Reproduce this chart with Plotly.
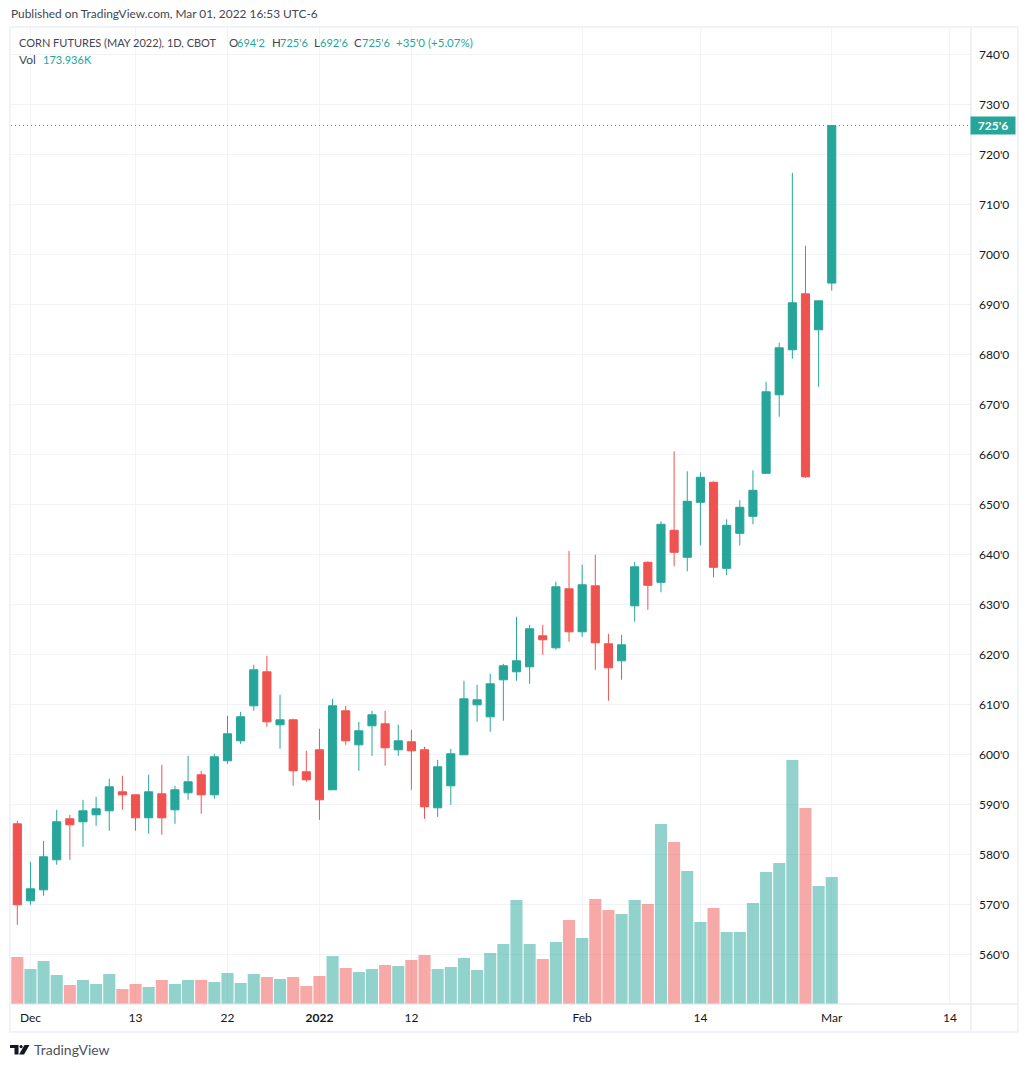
import plotly.graph_objects as go

# daily corn futures (price in cents, volume in thousands)
opens = [586.1, 570.7, 572.9, 578.9, 587.1, 586.5, 587.9, 588.7, 592.5, 591.9, 587.3, 592.1, 588.9, 592.3, 595.9, 591.9,
         598.7, 602.7, 609.7, 616.5, 605.9, 606.9, 596.5, 600.9, 592.9, 608.7, 601.9, 605.7, 606.1, 600.9, 602.5, 600.9,
         589.3, 593.7, 599.9, 609.9, 607.5, 614.9, 616.5, 617.5, 623.7, 621.3, 633.1, 624.5, 633.7, 622.1, 618.7, 629.7,
         638.4, 634.4, 644.8, 639.4, 650.4, 654.4, 637.2, 644.2, 647.6, 656.2, 671.9, 680.9, 692.1, 684.9, 694.25]
highs = [586.7, 578.5, 582.7, 588.9, 587.9, 590.9, 591.5, 595.1, 595.7, 591.9, 595.9, 597.9, 593.7, 599.7, 596.7, 600.1,
         607.7, 608.5, 617.9, 619.7, 611.9, 607.1, 600.7, 605.1, 611.1, 609.7, 606.5, 608.7, 608.7, 605.9, 604.9, 601.5,
         598.9, 601.1, 614.7, 613.9, 616.1, 618.1, 627.5, 625.9, 625.9, 634.5, 640.7, 637.9, 639.9, 624.1, 623.9, 638.5,
         638.6, 646.6, 660.6, 656.6, 656.4, 654.6, 647.0, 650.8, 656.8, 674.5, 682.3, 716.3, 701.7, 690.7, 725.75]
lows = [565.9, 569.9, 571.7, 577.9, 578.9, 581.5, 585.7, 584.7, 588.9, 584.7, 584.1, 583.9, 586.1, 590.9, 588.1, 591.1,
        598.1, 602.1, 608.7, 605.5, 601.1, 593.7, 594.5, 586.9, 592.9, 601.9, 596.7, 599.7, 597.7, 599.7, 592.9, 587.1,
        587.5, 589.9, 599.9, 606.5, 604.5, 606.7, 614.7, 614.1, 619.9, 620.9, 622.5, 623.5, 616.9, 610.7, 614.9, 626.5,
        628.9, 632.4, 637.6, 636.6, 641.8, 635.4, 635.8, 641.8, 646.0, 656.1, 667.5, 679.1, 655.3, 673.5, 692.75]
closes = [569.9, 573.1, 579.5, 586.5, 585.9, 588.7, 589.1, 593.5, 591.9, 587.3, 592.5, 587.3, 592.9, 594.5, 591.9, 599.5,
          604.1, 607.5, 616.9, 606.5, 606.9, 596.7, 594.9, 590.9, 609.7, 602.7, 604.7, 607.9, 601.3, 602.7, 600.7, 589.5,
          597.5, 600.1, 611.1, 610.9, 614.1, 617.7, 618.7, 625.1, 622.9, 633.5, 624.5, 633.9, 622.3, 617.3, 621.9, 637.5,
          633.8, 646.0, 640.4, 650.6, 655.4, 637.4, 645.8, 649.4, 652.8, 672.5, 681.3, 690.3, 655.5, 690.7, 725.75]
volumes = [64.4, 47.9, 58.9, 39.7, 26.0, 32.9, 27.4, 41.1, 20.5, 27.4, 23.3, 32.9, 27.4, 32.9, 32.9, 30.1,
           42.5, 28.8, 41.1, 37.0, 34.2, 37.0, 24.7, 38.4, 65.7, 49.3, 43.8, 47.9, 53.4, 52.0, 60.3, 67.1,
           47.9, 50.7, 63.0, 46.6, 69.9, 82.2, 142.4, 82.2, 61.6, 84.9, 115.0, 90.4, 143.8, 128.7, 123.3, 142.4,
           137.0, 246.5, 221.9, 182.2, 112.3, 131.5, 98.6, 98.6, 138.3, 180.8, 193.1, 334.2, 268.4, 161.6, 173.9]

time_ticks = [1, 9, 16, 23, 30, 43, 52, 62, 71]
time_labels = ["Dec", "13", "22", "<b>2022</b>", "12", "Feb", "14", "Mar", "14"]
price_ticks = list(range(560, 750, 10))
price_labels = [f"{p}'0" for p in price_ticks]

UP = "#26a69a"
DOWN = "#ef5350"
GRID = "#f2f3f7"
TEXT = "#131722"
SOFT = "#434651"
FONT = "Lato"

# plot box in page pixels
L, R, T, B = 11, 971, 28, 1004
W, H = R - L, B - T


def px(x):
    return (x - L) / W


def py(y):
    return (B - y) / H


def label(x, y, text, color=SOFT, size=12):
    return dict(xref="paper", yref="paper", x=px(x), y=py(y), text=text, showarrow=False, borderpad=0,
                xanchor="left", yanchor="middle", font=dict(family=FONT, size=size, color=color))


def poly(points):
    return "M " + " L ".join(f"{px(a):.5f} {py(b):.5f}" for a, b in points) + " Z"


x = list(range(len(closes)))
vol_colors = ["rgba(38,166,154,0.5)" if c >= o else "rgba(239,83,80,0.5)" for o, c in zip(opens, closes)]

fig = go.Figure()
fig.add_trace(go.Bar(x=x, y=volumes, yaxis="y2", marker=dict(color=vol_colors, line_width=0), hoverinfo="skip"))
fig.add_trace(go.Candlestick(x=x, open=opens, high=highs, low=lows, close=closes, whiskerwidth=0,
                             increasing=dict(line=dict(color=UP, width=1), fillcolor=UP),
                             decreasing=dict(line=dict(color=DOWN, width=1), fillcolor=DOWN)))

annotations = [
    label(10, 14, "Published on TradingView.com, Mar 01, 2022 16:53 UTC-6", size=11.9),
    label(18, 42, "CORN FUTURES (MAY 2022), 1D, CBOT", size=11),
    label(228, 42, "O", size=11.5), label(236, 42, "694'2", UP, 11),
    label(271, 42, "H", size=11.5), label(279, 42, "725'6", UP, 11),
    label(313, 42, "L", size=11.5), label(319, 42, "692'6", UP, 11),
    label(353, 42, "C", size=11.5), label(361, 42, "725'6", UP, 11),
    label(395, 42, "+35'0 (+5.07%)", UP, 11.5),
    label(18, 59, "Vol"), label(42, 59, "173.936K", UP, 11),
    label(33, 1049, "TradingView", "#50535e", 14),
    # last price tag on the price scale
    dict(xref="paper", yref="y", x=px(970), y=closes[-1], text="<b>725'6</b>", showarrow=False, xanchor="left",
         yanchor="middle", width=44, height=17, borderpad=0, bgcolor=UP,
         font=dict(family=FONT, size=12, color="white")),
]

shapes = [
    # outer frame and the scale dividers
    dict(type="rect", xref="paper", yref="paper", x0=px(10), x1=px(1018), y0=py(1032), y1=py(27),
         line=dict(color="#f0f3fa", width=2), layer="above"),
    dict(type="line", xref="paper", yref="paper", x0=px(971), x1=px(971), y0=py(1031), y1=py(28),
         line=dict(color="#e0e3eb", width=1)),
    dict(type="line", xref="paper", yref="paper", x0=px(11), x1=px(1017), y0=py(1004), y1=py(1004),
         line=dict(color="#e0e3eb", width=1)),
    dict(type="line", xref="paper", yref="y", x0=0, x1=1, y0=closes[-1], y1=closes[-1],
         line=dict(color=UP, width=1, dash="1px,3px")),
    # TradingView logo
    dict(type="path", xref="paper", yref="paper", line_width=0, fillcolor=TEXT,
         path=poly([(10, 1045), (18.5, 1045), (18.5, 1054.5), (14.5, 1054.5), (14.5, 1048), (10, 1048)])),
    dict(type="circle", xref="paper", yref="paper", line_width=0, fillcolor=TEXT,
         x0=px(19.5), x1=px(22.7), y0=py(1048.2), y1=py(1045)),
    dict(type="path", xref="paper", yref="paper", line_width=0, fillcolor=TEXT,
         path=poly([(24.5, 1045), (29.5, 1045), (24, 1054.5), (19, 1054.5)])),
]

fig.update_layout(
    width=1028, height=1067,
    margin=dict(l=L, r=1028 - R, t=T, b=1067 - B),
    paper_bgcolor="white", plot_bgcolor="white",
    showlegend=False, bargap=0.08, boxgap=0.38, boxgroupgap=0,
    font=dict(family=FONT, size=12, color=TEXT),
    annotations=annotations, shapes=shapes,
    xaxis=dict(range=[-0.48, 72.6], tickmode="array", tickvals=time_ticks, ticktext=time_labels,
               rangeslider_visible=False, showgrid=True, gridcolor=GRID, gridwidth=1, zeroline=False,
               ticks="", showline=False, ticklabelstandoff=5),
    yaxis=dict(range=[550.06, 745.26], side="right", tickmode="array", tickvals=price_ticks, ticktext=price_labels,
               showgrid=True, gridcolor=GRID, gridwidth=1, zeroline=False, ticks="", showline=False,
               ticklabelstandoff=7),
    yaxis2=dict(range=[0, 1337], overlaying="y", visible=False),
)

fig.write_html("out.html", post_script="document.body.style.margin='0';", config=dict(displayModeBar=False))
